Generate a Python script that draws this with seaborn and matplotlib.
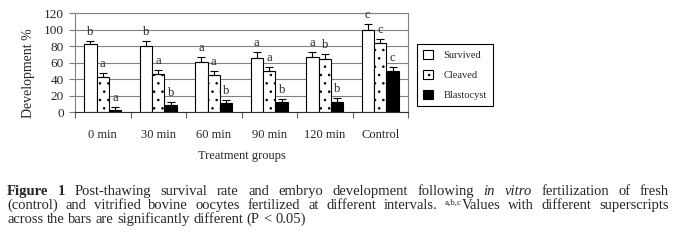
import numpy as np
import pandas as pd
import seaborn as sns
import matplotlib.pyplot as plt
from matplotlib.patches import Patch

groups = ['0 min', '30 min', '60 min', '90 min', '120 min', 'Control']
stages = ['Survived', 'Cleaved', 'Blastocyst']

survived = [82.5, 80.5, 61, 65.5, 66.5, 100]
cleaved = [42, 46.5, 45, 50, 64, 83.5]
blastocyst = [3, 9, 11, 12, 12, 50]

survived_err = [4, 5.5, 6, 7, 6, 6.5]
cleaved_err = [5, 4.5, 5, 4.5, 6, 5]
blastocyst_err = [3, 3, 4, 4, 5.5, 4]

survived_sig = ['b', 'b', 'a', 'a', 'a', 'c']
cleaved_sig = ['a', 'a', 'a', 'a', 'b', 'c']
blastocyst_sig = ['a', 'b', 'b', 'b', 'b', 'c']

df = pd.DataFrame({
    'group': groups * 3,
    'stage': np.repeat(stages, len(groups)),
    'value': survived + cleaved + blastocyst,
})

sns.set_style('white')
plt.rcParams['font.family'] = ['Liberation Serif', 'DejaVu Serif']
plt.rcParams['hatch.color'] = 'black'
plt.rcParams['hatch.linewidth'] = 0.6

W, H = 677, 243
fig = plt.figure(figsize=(W / 100, H / 100), dpi=100)
ax = fig.add_axes([75 / W, 1 - 112 / H, 333 / W, 99 / H])

sns.barplot(data=df, x='group', y='value', hue='stage', order=groups,
            hue_order=stages, palette=['white', 'white', 'black'],
            edgecolor='black', linewidth=0.8, width=0.675, errorbar=None,
            legend=False, ax=ax)

for bar in ax.containers[1]:
    bar.set_hatch('..')

errs = [survived_err, cleaved_err, blastocyst_err]
sigs = [survived_sig, cleaved_sig, blastocyst_sig]
for cont, err, sig in zip(ax.containers, errs, sigs):
    for bar, e, s in zip(cont, err, sig):
        x = bar.get_x() + bar.get_width() / 2
        h = bar.get_height()
        ax.errorbar(x, h, yerr=[[0], [e]], fmt='none', ecolor='black',
                    elinewidth=0.8, capsize=3, capthick=0.8)
        ax.annotate(s, (x, h + e), xytext=(0, 4.3), textcoords='offset points',
                    ha='center', va='baseline', fontsize=9)

ax.set_ylim(0, 120)
ax.set_yticks(range(0, 121, 20))
ax.set_xlim(-0.5, 5.5)
ax.set_xticks(np.arange(-0.5, 6, 1), labels=[''] * 7)
ax.set_xticks(range(6), labels=groups, minor=True)
ax.tick_params(axis='x', which='major', bottom=True, direction='out',
               length=4, width=0.8, color='#606060')
ax.tick_params(axis='x', which='minor', bottom=True, length=0, pad=12,
               labelsize=9)
ax.tick_params(axis='y', left=True, direction='out', length=4.5, width=0.8,
               color='#808080', pad=3.5, labelsize=9.5)

ax.set_axisbelow(True)
ax.yaxis.grid(True, color='#808080', linewidth=0.8)
for side in ['top', 'right', 'left']:
    ax.spines[side].set_color('#808080')
    ax.spines[side].set_linewidth(0.8)
ax.spines['bottom'].set_color('#303030')
ax.spines['bottom'].set_linewidth(0.8)

ax.set_xlabel('Treatment groups', fontsize=9, labelpad=7)
ax.set_ylabel('Development %', fontsize=10)
ax.yaxis.set_label_coords(-0.12, 0.394)

handles = [Patch(facecolor='white', edgecolor='black', linewidth=0.8),
           Patch(facecolor='white', edgecolor='black', hatch='..', linewidth=0.8),
           Patch(facecolor='black', edgecolor='black', linewidth=0.8)]
leg = ax.legend(handles, stages, loc='upper left', bbox_to_anchor=(1.027, 0.687),
                borderaxespad=0, fontsize=7.5, fancybox=False, edgecolor='black',
                framealpha=1, handlelength=1.0, handleheight=1.0,
                handletextpad=1.0, labelspacing=0.95, borderpad=0.55)
leg.get_frame().set_linewidth(0.8)

# caption, laid out word by word so lines 1 and 2 can be justified
cap = 10.5
styles = {
    'normal': dict(fontsize=cap),
    'bold': dict(fontsize=cap, fontweight='bold'),
    'italic': dict(fontsize=cap, fontstyle='italic'),
    'sup': dict(fontsize=6.5, dy=4.5),
}


def words(text, style='normal'):
    return [[(w, style)] for w in text.split()]


line1 = (words('Figure 1', 'bold')
         + words('Post-thawing survival rate and embryo development following')
         + words('in vitro', 'italic') + words('fertilization of fresh'))
line2 = (words('(control) and vitrified bovine oocytes fertilized at different intervals.')
         + [[('a,b,c', 'sup'), ('Values', 'normal')]]
         + words('with different superscripts'))
line3 = words('across the bars are significantly different (P < 0.05)')

renderer = fig.canvas.get_renderer()
X0, X1 = 7, 669


def draw_line(line, y, justify):
    placed = []
    for word in line:
        parts = []
        for txt, st in word:
            kw = dict(styles[st])
            dy = kw.pop('dy', 0)
            t = fig.text(0, 0, txt, ha='left', va='baseline', **kw)
            parts.append((t, dy, t.get_window_extent(renderer).width))
        placed.append(parts)
    widths = [sum(p[2] for p in parts) for parts in placed]
    gap = (X1 - X0 - sum(widths)) / (len(widths) - 1) if justify else 3.6
    x = X0
    for parts in placed:
        for t, dy, w in parts:
            t.set_position((x / W, 1 - (y - dy) / H))
            x += w
        x += gap


draw_line(line1, 195, True)
draw_line(line2, 209, True)
draw_line(line3, 223, False)

fig.savefig('out.png', dpi=100, facecolor='white')
